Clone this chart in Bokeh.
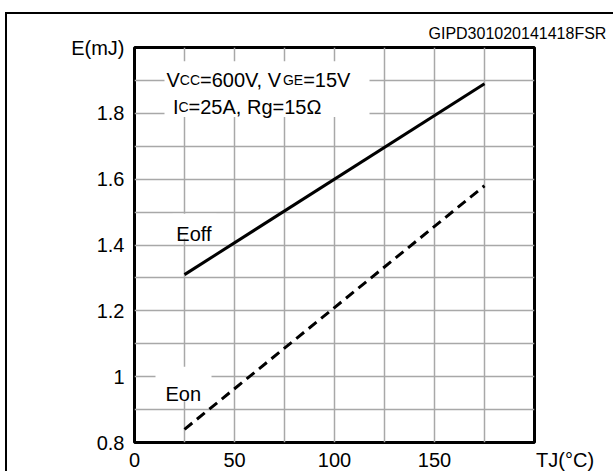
from bokeh.plotting import figure
from bokeh.models import FixedTicker, Range1d, Label
from bokeh.embed import file_html
from bokeh.resources import INLINE

# ---- data ----
tj = [25, 175]
eoff = [1.31, 1.89]
eon = [0.84, 1.58]
x_ticks = [0, 50, 100, 150, 200]
x_tick_labels = ["0", "50", "100", "150", "TJ(°C)"]
y_ticks = [0.8, 1.0, 1.2, 1.4, 1.6, 1.8, 2.0]
y_tick_labels = ["0.8", "1", "1.2", "1.4", "1.6", "1.8", "E(mJ)"]
x_grid = [25, 50, 75, 100, 125, 150, 175]
y_grid = [0.9, 1.0, 1.1, 1.2, 1.3, 1.4, 1.5, 1.6, 1.7, 1.8, 1.9]
cond_line1 = [("V", 20), ("CC", 14), ("=600V, V", 20), ("GE", 14), ("=15V", 20)]
cond_line2 = [("I", 20), ("C", 14), ("=25A, Rg=15Ω", 20)]
fig_code = "GIPD301020141418FSR"

FONT = "Liberation Sans"
W, H = 608, 459

ARIAL = {'V': 667, 'C': 722, 'G': 778, 'E': 667, '=': 584, ',': 278, ' ': 278,
         'I': 278, 'A': 667, 'R': 722, 'g': 556, 'Ω': 768, 'T': 611, 'J': 500,
         '(': 333, ')': 333, '°': 400, 'o': 556, 'f': 278, 'n': 556}


def text_width(s, size):
    return sum(ARIAL.get(ch, 556) for ch in s) * size / 1000.0


p = figure(width=W, height=H, x_range=Range1d(0, 200), y_range=Range1d(0.8, 2.0),
           output_backend="svg", toolbar_location=None,
           min_border_left=127, min_border_right=81, min_border_top=33, min_border_bottom=27)
p.styles = {"margin-left": "5px", "margin-top": "12px",
            "border-left": "2px solid black", "border-top": "2px solid black"}
p.background_fill_color = "white"
p.border_fill_color = "white"
p.outline_line_color = "black"
p.outline_line_width = 3

# figure code as the (right-hand) title
p.title.text = fig_code
p.title.text_font = FONT
p.title.text_font_size = "16px"
p.title.text_font_style = "normal"
p.title.text_color = "black"
p.title.align = "left"
p.title.offset = 294
p.title.standoff = 11

p.xgrid.ticker = FixedTicker(ticks=x_grid)
p.ygrid.ticker = FixedTicker(ticks=y_grid)
for g in (p.xgrid, p.ygrid):
    g.grid_line_color = "#a8a8a8"
    g.grid_line_width = 1.5

# last x label (axis name) sits to the right of the frame corner
NBSP = "\u00a0"
xlabels = list(x_tick_labels)
xlabels[-1] = NBSP * 11 + xlabels[-1]
p.xaxis.ticker = FixedTicker(ticks=x_ticks)
p.xaxis.major_label_overrides = {t: l for t, l in zip(x_ticks, xlabels)}
p.yaxis.ticker = FixedTicker(ticks=y_ticks)
p.yaxis.major_label_overrides = {t: l for t, l in zip(y_ticks, y_tick_labels)}
for ax in (p.xaxis, p.yaxis):
    ax.axis_line_color = None
    ax.major_tick_line_color = None
    ax.minor_tick_line_color = None
    ax.major_label_text_font = FONT
    ax.major_label_text_font_size = "20px"
    ax.major_label_text_color = "black"
p.xaxis.major_label_standoff = 0
p.yaxis.major_label_standoff = 4

# white backgrounds behind in-plot texts
p.quad(left=[15, 19, 10.5], right=[117.5, 41, 38.5], bottom=[1.789, 1.42, 0.925],
       top=[1.958, 1.495, 1.03], fill_color="white", line_color=None)

p.line(tj, eoff, line_color="black", line_width=3)
p.line(tj, eon, line_color="black", line_width=3, line_dash="10 6")


def add_run(pieces, x, y):
    off = 0.0
    for s, size in pieces:
        p.add_layout(Label(x=x, y=y, x_offset=off, text=s,
                           text_font=FONT, text_font_size=f"{size}px",
                           text_color="black", text_baseline="alphabetic",
                           text_align="left"))
        off += text_width(s, size)


add_run(cond_line1, 16, 1.90)
add_run(cond_line2, 19.2, 1.82)
add_run([("Eoff", 20)], 20.9, 1.432)
add_run([("Eon", 20)], 15.5, 0.946)

open("out.html", "w").write(file_html(p, INLINE))
